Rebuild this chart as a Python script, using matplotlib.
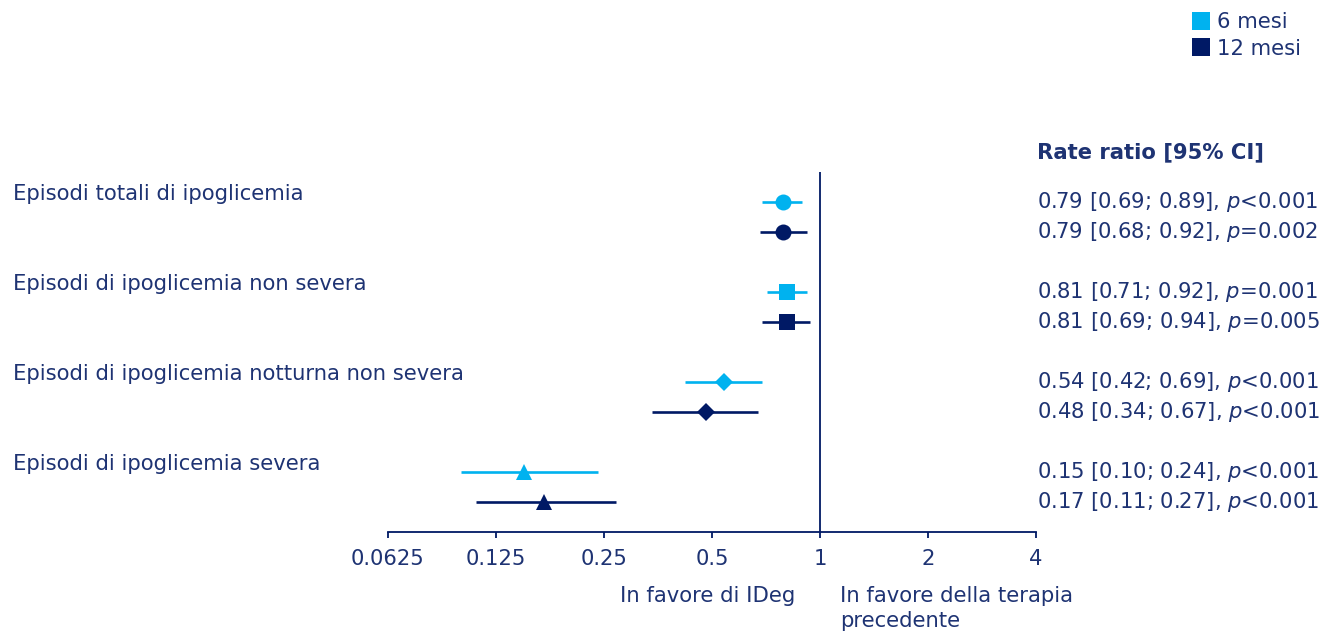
import matplotlib
matplotlib.use("Agg")
import matplotlib.pyplot as plt
import matplotlib.transforms as mtransforms
from matplotlib.lines import Line2D

# Data
outcomes = [
    "Episodi totali di ipoglicemia",
    "Episodi di ipoglicemia non severa",
    "Episodi di ipoglicemia notturna non severa",
    "Episodi di ipoglicemia severa",
]
series_names = ["6 mesi", "12 mesi"]
rr_6 = [0.79, 0.81, 0.54, 0.15]
lo_6 = [0.69, 0.71, 0.42, 0.10]
hi_6 = [0.89, 0.92, 0.69, 0.24]
p_6 = ["<0.001", "=0.001", "<0.001", "<0.001"]
rr_12 = [0.79, 0.81, 0.48, 0.17]
lo_12 = [0.68, 0.69, 0.34, 0.11]
hi_12 = [0.92, 0.94, 0.67, 0.27]
p_12 = ["=0.002", "=0.005", "<0.001", "<0.001"]
xticks = [0.0625, 0.125, 0.25, 0.5, 1, 2, 4]
xtick_labels = ["0.0625", "0.125", "0.25", "0.5", "1", "2", "4"]
markers = ["o", "s", "D", "^"]

# Styling
c_light = "#00b2ef"
c_dark = "#001965"
c_text = "#1e3373"
W, H = 1336, 631
plt.rcParams["font.family"] = ["DejaVu Sans"]
plt.rcParams["mathtext.fontset"] = "dejavusans"
fs = 15.2

fig = plt.figure(figsize=(W / 100, H / 100), dpi=100)
ax_l, ax_r, ax_t, ax_b = 388, 1036, 172, 532
ax = fig.add_axes([ax_l / W, 1 - ax_b / H, (ax_r - ax_l) / W, (ax_b - ax_t) / H])
ax.set_xscale("log", base=2)
ax.set_xlim(0.0625, 4)
ax.set_ylim(11, -1)

msizes = {"o": 11.5, "s": 11.5, "D": 9, "^": 12}
for g in range(len(outcomes)):
    for s, (rr, lo, hi, col) in enumerate([(rr_6, lo_6, hi_6, c_light),
                                           (rr_12, lo_12, hi_12, c_dark)]):
        y = g * 3 + s
        ax.plot([lo[g], hi[g]], [y, y], color=col, lw=1.9, solid_capstyle="butt", zorder=2)
        ax.plot([rr[g]], [y], marker=markers[g], color=col, markersize=msizes[markers[g]],
                markeredgewidth=0, linestyle="none", zorder=3)

ax.axvline(1, color=c_dark, lw=1.3, zorder=1)

for sp in ["top", "right", "left"]:
    ax.spines[sp].set_visible(False)
ax.spines["bottom"].set_color(c_dark)
ax.spines["bottom"].set_linewidth(1.3)
ax.set_yticks([])
ax.set_xticks(xticks)
ax.set_xticklabels(xtick_labels)
ax.minorticks_off()
ax.tick_params(axis="x", colors=c_dark, labelcolor=c_text, length=4, width=1.3,
               labelsize=fs, pad=8)
ax.patch.set_alpha(0)

# Outcome labels on the left
tr_left = mtransforms.blended_transform_factory(fig.transFigure, ax.transData)
for g, name in enumerate(outcomes):
    ax.text(13 / W, g * 3 - 0.27, name, transform=tr_left, ha="left", va="center",
            fontsize=fs, color=c_text, clip_on=False)

# Rate ratio column on the right
ax.text(1037 / W, -1.67, "Rate ratio [95% CI]", transform=tr_left, ha="left", va="center",
        fontsize=fs, fontweight="bold", color=c_text, clip_on=False)
for g in range(len(outcomes)):
    for s, (rr, lo, hi, pv) in enumerate([(rr_6, lo_6, hi_6, p_6), (rr_12, lo_12, hi_12, p_12)]):
        label = f"{rr[g]:.2f} [{lo[g]:.2f}; {hi[g]:.2f}], $\\mathit{{p}}${pv[g]}"
        ax.text(1037 / W, g * 3 + s, label, transform=tr_left, ha="left", va="center",
                fontsize=fs, color=c_text, clip_on=False)

# Direction labels under the axis
fig.text(795 / W, 1 - 596 / H, "In favore di IDeg", ha="right", va="center",
         fontsize=fs, color=c_text)
fig.text(840 / W, 1 - 596 / H, "In favore della terapia", ha="left", va="center",
         fontsize=fs, color=c_text)
fig.text(840 / W, 1 - 621 / H, "precedente", ha="left", va="center",
         fontsize=fs, color=c_text)

# Legend
handles = [Line2D([], [], marker="s", color=c, linestyle="none", markersize=12.5,
                  markeredgewidth=0, label=n) for c, n in zip([c_light, c_dark], series_names)]
leg = fig.legend(handles=handles, loc="upper left", bbox_to_anchor=(1186 / W, 1 - 6 / H),
                 frameon=False, fontsize=fs, handlelength=0.85, handletextpad=0.3,
                 labelspacing=0.3, borderaxespad=0, borderpad=0.3)
for t in leg.get_texts():
    t.set_color(c_text)

fig.savefig("out.png", dpi=100, facecolor="white")
